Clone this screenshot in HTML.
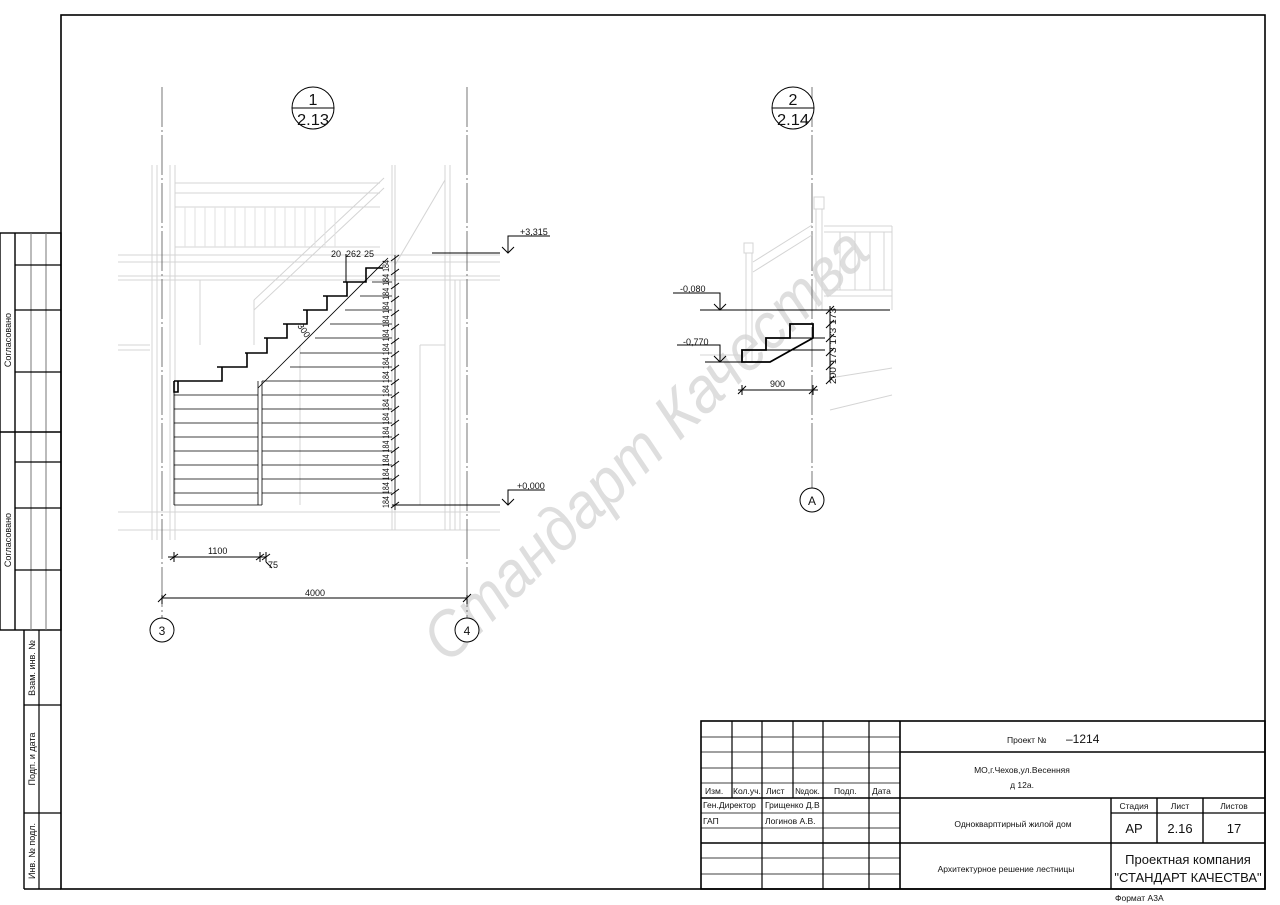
<!DOCTYPE html>
<html><head><meta charset="utf-8"><style>
html,body{margin:0;padding:0;background:#fff;width:1280px;height:905px;overflow:hidden}
svg{display:block}
text{font-family:"Liberation Sans","DejaVu Sans",sans-serif;fill:#111}
</style></head><body>
<svg width="1280" height="905" viewBox="0 0 1280 905" xmlns="http://www.w3.org/2000/svg">
<!-- frame -->
<rect x="61" y="15" width="1204" height="874" fill="none" stroke="#000" stroke-width="1.6"/>
<!-- left stamp -->
<g stroke="#000" fill="none">
<rect x="0" y="233" width="61" height="397" stroke-width="1.4"/>
<line x1="15" y1="233" x2="15" y2="630" stroke-width="1.4"/>
<line x1="31" y1="233" x2="31" y2="630" stroke="#777"/>
<line x1="46" y1="233" x2="46" y2="630" stroke="#777"/>
<line x1="0" y1="432" x2="61" y2="432" stroke-width="1.4"/>
<line x1="15" y1="265" x2="61" y2="265" stroke-width="1.2"/>
<line x1="15" y1="310" x2="61" y2="310" stroke-width="1.2"/>
<line x1="15" y1="372" x2="61" y2="372" stroke-width="1.2"/>
<line x1="15" y1="462" x2="61" y2="462" stroke-width="1.2"/>
<line x1="15" y1="508" x2="61" y2="508" stroke-width="1.2"/>
<line x1="15" y1="570" x2="61" y2="570" stroke-width="1.2"/>
<line x1="24" y1="630" x2="24" y2="889" stroke-width="1.4"/>
<line x1="39" y1="630" x2="39" y2="889" stroke-width="1.2"/>
<line x1="24" y1="705" x2="61" y2="705" stroke-width="1.2"/>
<line x1="24" y1="813" x2="61" y2="813" stroke-width="1.2"/>
<line x1="24" y1="889" x2="61" y2="889" stroke-width="1.4"/>
</g>
<g font-size="9">
<text transform="translate(11,340) rotate(-90)" text-anchor="middle">Согласовано</text>
<text transform="translate(11,540) rotate(-90)" text-anchor="middle">Согласовано</text>
<text transform="translate(35,668) rotate(-90)" text-anchor="middle">Взам. инв. №</text>
<text transform="translate(35,759) rotate(-90)" text-anchor="middle">Подп. и дата</text>
<text transform="translate(35,851) rotate(-90)" text-anchor="middle">Инв. № подл.</text>
</g>

<!-- watermark -->
<text transform="translate(448,665) rotate(-44)" font-size="64" style="fill:#dedede;font-style:italic" textLength="590" lengthAdjust="spacingAndGlyphs">Стандарт Качества</text>

<!-- light background drawing, view 1 -->
<g stroke="#d4d4d4" fill="none" stroke-width="1">
<line x1="152" y1="165" x2="152" y2="540"/><line x1="157" y1="165" x2="157" y2="540"/>
<line x1="170" y1="165" x2="170" y2="540"/><line x1="175" y1="165" x2="175" y2="540"/>
<line x1="118" y1="255" x2="500" y2="255"/><line x1="118" y1="262" x2="500" y2="262"/>
<line x1="118" y1="276" x2="500" y2="276"/><line x1="118" y1="280" x2="500" y2="280"/>
<line x1="175" y1="183" x2="380" y2="183"/><line x1="175" y1="193" x2="380" y2="193"/>
<line x1="175" y1="207" x2="380" y2="207"/><line x1="175" y1="247" x2="380" y2="247"/>
<line x1="254" y1="300" x2="384" y2="178"/><line x1="254" y1="310" x2="384" y2="188"/>
<line x1="254" y1="300" x2="254" y2="345"/>
<line x1="392" y1="165" x2="392" y2="530"/><line x1="395" y1="165" x2="395" y2="530"/>
<line x1="445" y1="165" x2="445" y2="530"/><line x1="450" y1="165" x2="450" y2="530"/>
<line x1="455" y1="280" x2="455" y2="530"/><line x1="460" y1="280" x2="460" y2="530"/>
<line x1="420" y1="345" x2="445" y2="345"/><line x1="420" y1="345" x2="420" y2="505"/>
<line x1="118" y1="345" x2="150" y2="345"/><line x1="118" y1="350" x2="150" y2="350"/>
<line x1="118" y1="512" x2="500" y2="512"/><line x1="118" y1="530" x2="500" y2="530"/>
<line x1="395" y1="265" x2="445" y2="180"/>
<line x1="200" y1="280" x2="200" y2="345"/><line x1="300" y1="345" x2="300" y2="505"/>
</g>
<g stroke="#e2e2e2">
<line x1="185" y1="207" x2="185" y2="247"/><line x1="195" y1="207" x2="195" y2="247"/><line x1="205" y1="207" x2="205" y2="247"/><line x1="215" y1="207" x2="215" y2="247"/><line x1="225" y1="207" x2="225" y2="247"/><line x1="235" y1="207" x2="235" y2="247"/><line x1="245" y1="207" x2="245" y2="247"/><line x1="255" y1="207" x2="255" y2="247"/><line x1="265" y1="207" x2="265" y2="247"/><line x1="275" y1="207" x2="275" y2="247"/><line x1="285" y1="207" x2="285" y2="247"/><line x1="295" y1="207" x2="295" y2="247"/><line x1="305" y1="207" x2="305" y2="247"/><line x1="315" y1="207" x2="315" y2="247"/><line x1="325" y1="207" x2="325" y2="247"/><line x1="335" y1="207" x2="335" y2="247"/>
</g>
<!-- axes -->
<g stroke="#555" stroke-width="0.8" stroke-dasharray="40 3 2 3">
<line x1="162" y1="87" x2="162" y2="618"/><line x1="467" y1="87" x2="467" y2="618"/>
<line x1="812" y1="87" x2="812" y2="488"/>
</g>
<g fill="#fff" stroke="#000" stroke-width="1">
<circle cx="162" cy="630" r="12"/><circle cx="467" cy="630" r="12"/><circle cx="812" cy="500" r="12"/>
<circle cx="313" cy="108" r="21"/><line x1="292" y1="108" x2="334" y2="108"/>
<circle cx="793" cy="108" r="21"/><line x1="772" y1="108" x2="814" y2="108"/>
</g>
<g font-size="12" text-anchor="middle">
<text x="162" y="635">3</text><text x="467" y="635">4</text><text x="812" y="505">A</text>
</g>
<g font-size="16" text-anchor="middle">
<text x="313" y="105">1</text><text x="313" y="125" textLength="32" lengthAdjust="spacingAndGlyphs">2.13</text>
<text x="793" y="105">2</text><text x="793" y="125" textLength="32" lengthAdjust="spacingAndGlyphs">2.14</text>
</g>

<!-- stair view1 -->
<g stroke="#000" fill="none">
<g stroke-width="0.8">
<line x1="174" y1="395" x2="258" y2="395"/><line x1="174" y1="409" x2="258" y2="409"/><line x1="174" y1="423" x2="258" y2="423"/><line x1="174" y1="437" x2="258" y2="437"/><line x1="174" y1="451" x2="258" y2="451"/><line x1="174" y1="465" x2="258" y2="465"/><line x1="174" y1="479" x2="258" y2="479"/><line x1="174" y1="493" x2="258" y2="493"/>
<line x1="262" y1="395" x2="392" y2="395"/><line x1="262" y1="409" x2="392" y2="409"/><line x1="262" y1="423" x2="392" y2="423"/><line x1="262" y1="437" x2="392" y2="437"/><line x1="262" y1="451" x2="392" y2="451"/><line x1="262" y1="465" x2="392" y2="465"/><line x1="262" y1="479" x2="392" y2="479"/><line x1="262" y1="493" x2="392" y2="493"/>
<line x1="262" y1="381" x2="392" y2="381"/><line x1="290" y1="367" x2="392" y2="367"/><line x1="300" y1="353" x2="392" y2="353"/><line x1="315" y1="338" x2="392" y2="338"/><line x1="330" y1="324" x2="392" y2="324"/><line x1="345" y1="310" x2="392" y2="310"/><line x1="360" y1="296" x2="392" y2="296"/><line x1="372" y1="282" x2="392" y2="282"/>
<line x1="174" y1="381" x2="174" y2="505"/><line x1="258" y1="381" x2="258" y2="505"/><line x1="262" y1="381" x2="262" y2="505"/>
<line x1="174" y1="505" x2="262" y2="505"/>
<line x1="258" y1="388" x2="388" y2="258"/>
</g>
<g stroke-width="1.6">
<path d="M174 381 H222 V367 H247 M217 367 H247 V353 H267 M245 353 H267 V338 H287 M264 338 H287 V324 H307 M283 324 H307 V310 H327 M303 310 H327 V296 H347 M323 296 H347 V282 H366 M343 282 H366 V268 H383"/>
<path d="M174 381 V392 H178 V381"/>
</g>
<line x1="346" y1="254" x2="346" y2="282"/>
<line x1="395" y1="255" x2="395" y2="510" stroke-width="0.8"/>
<line x1="392" y1="505" x2="500" y2="505"/>
<line x1="432" y1="253" x2="500" y2="253"/>
</g>
<g stroke="#000" stroke-width="1">
<line x1="391" y1="261" x2="399" y2="255"/><line x1="391" y1="275" x2="399" y2="269"/><line x1="391" y1="289" x2="399" y2="283"/><line x1="391" y1="302" x2="399" y2="296"/><line x1="391" y1="316" x2="399" y2="310"/><line x1="391" y1="330" x2="399" y2="324"/><line x1="391" y1="344" x2="399" y2="338"/><line x1="391" y1="357" x2="399" y2="351"/><line x1="391" y1="371" x2="399" y2="365"/><line x1="391" y1="385" x2="399" y2="379"/><line x1="391" y1="398" x2="399" y2="392"/><line x1="391" y1="412" x2="399" y2="406"/><line x1="391" y1="426" x2="399" y2="420"/><line x1="391" y1="440" x2="399" y2="434"/><line x1="391" y1="453" x2="399" y2="447"/><line x1="391" y1="467" x2="399" y2="461"/><line x1="391" y1="481" x2="399" y2="475"/><line x1="391" y1="495" x2="399" y2="489"/><line x1="391" y1="508" x2="399" y2="502"/>
</g>
<g font-size="9">
<text transform="translate(389,508) rotate(-90)" textLength="248" lengthAdjust="spacingAndGlyphs">184 184 184 184 184 184 184 184 184 184 184 184 184 184 184 184 184 184</text>
<text x="331" y="257">20</text><text x="346" y="257">262</text><text x="364" y="257">25</text>
<text transform="translate(297,326) rotate(55)">300</text>
</g>
<!-- level marks & dims -->
<g stroke="#000" fill="none" stroke-width="1">
<path d="M502 247 L508 253 L514 247 M508 253 V236 H550"/>
<path d="M502 499 L508 505 L514 499 M508 505 V490 H545"/>
<path d="M174 552 V562 M260 552 V562 M266 552 V562 M168 557 H266 M170 560 L178 554 M256 560 L264 554 M262 560 L270 554 M266 562 L272 568"/>
<path d="M162 595 V604 M467 595 V604 M162 598 H467 M158 602 L166 594 M463 602 L471 594"/>
</g>
<g font-size="9">
<text x="520" y="235">+3,315</text><text x="517" y="489">+0,000</text>
<text x="208" y="554">1100</text><text x="268" y="568">75</text>
<text x="305" y="596">4000</text>
</g>

<!-- view 2 background -->
<g stroke="#d4d4d4" fill="none">
<rect x="744" y="243" width="9" height="10"/><line x1="746" y1="253" x2="746" y2="362"/><line x1="752" y1="253" x2="752" y2="362"/>
<line x1="753" y1="262" x2="812" y2="225"/><line x1="753" y1="272" x2="812" y2="235"/>
<rect x="814" y="197" width="10" height="12"/><line x1="816" y1="209" x2="816" y2="310"/><line x1="822" y1="209" x2="822" y2="310"/>
<line x1="824" y1="226" x2="892" y2="226"/><line x1="824" y1="232" x2="892" y2="232"/><line x1="824" y1="290" x2="892" y2="290"/><line x1="824" y1="296" x2="892" y2="296"/>
<line x1="840" y1="232" x2="840" y2="290"/><line x1="855" y1="232" x2="855" y2="290"/><line x1="870" y1="232" x2="870" y2="290"/><line x1="884" y1="232" x2="884" y2="290"/><line x1="892" y1="226" x2="892" y2="310"/>
<line x1="830" y1="378" x2="892" y2="368"/><line x1="830" y1="410" x2="892" y2="395"/>
<line x1="700" y1="355" x2="740" y2="355"/>
</g>
<g stroke="#000" fill="none">
<line x1="700" y1="310" x2="890" y2="310"/>
<line x1="705" y1="362" x2="770" y2="362"/>
<path d="M742 362 V350 H766 V338 H790 V324 H813 V338 L770 362 Z" stroke-width="1.8"/>
<line x1="790" y1="338" x2="825" y2="338"/><line x1="766" y1="350" x2="825" y2="350"/>
<path d="M673 293 H720 V310 M714 304 L720 310 L726 304"/>
<path d="M677 345 H720 V362 M714 356 L720 362 L726 356"/>
<line x1="830" y1="306" x2="830" y2="382"/>
<path d="M826 314 L834 306 M826 328 L834 320 M826 342 L834 334 M826 356 L834 348 M826 370 L834 362 M826 384 L834 376"/>
<path d="M742 385 V395 M813 385 V395 M738 390 H818 M738 394 L746 386 M809 394 L817 386"/>
</g>
<g font-size="9">
<text x="680" y="292">-0,080</text><text x="683" y="345">-0,770</text>
<text x="770" y="387">900</text>
<text transform="translate(836,384) rotate(-90)" textLength="76" lengthAdjust="spacingAndGlyphs">200 173 173 173</text>
</g>

<!-- title block -->
<g stroke="#000" fill="none">
<rect x="701" y="721" width="564" height="168" stroke-width="1.6"/>
<line x1="900" y1="721" x2="900" y2="889" stroke-width="1.6"/>
<line x1="732" y1="721" x2="732" y2="798" stroke-width="1.2"/>
<line x1="762" y1="721" x2="762" y2="889" stroke-width="1.2"/>
<line x1="793" y1="721" x2="793" y2="798" stroke-width="1.2"/>
<line x1="823" y1="721" x2="823" y2="889" stroke-width="1.2"/>
<line x1="869" y1="721" x2="869" y2="889" stroke-width="1.2"/>
<g stroke-width="0.8">
<line x1="701" y1="737" x2="900" y2="737"/><line x1="701" y1="752" x2="900" y2="752"/><line x1="701" y1="768" x2="900" y2="768"/><line x1="701" y1="783" x2="900" y2="783"/>
<line x1="701" y1="813" x2="900" y2="813"/><line x1="701" y1="828" x2="900" y2="828"/><line x1="701" y1="858" x2="900" y2="858"/><line x1="701" y1="874" x2="900" y2="874"/>
</g>
<line x1="701" y1="798" x2="900" y2="798" stroke-width="1.4"/>
<line x1="701" y1="843" x2="900" y2="843" stroke-width="1.4"/>
<line x1="900" y1="752" x2="1265" y2="752" stroke-width="1.4"/>
<line x1="900" y1="798" x2="1265" y2="798" stroke-width="1.4"/>
<line x1="900" y1="843" x2="1265" y2="843" stroke-width="1.4"/>
<line x1="1111" y1="798" x2="1111" y2="889" stroke-width="1.4"/>
<line x1="1157" y1="798" x2="1157" y2="843" stroke-width="1.4"/>
<line x1="1203" y1="798" x2="1203" y2="843" stroke-width="1.4"/>
<line x1="1111" y1="813" x2="1265" y2="813" stroke-width="1.2"/>
</g>
<g font-size="8.5">
<text x="705" y="794">Изм.</text><text x="733" y="794">Кол.уч.</text><text x="766" y="794">Лист</text><text x="795" y="794">№док.</text><text x="834" y="794">Подп.</text><text x="872" y="794">Дата</text>
<text x="703" y="808">Ген.Директор</text><text x="765" y="808">Грищенко Д.В</text>
<text x="703" y="824">ГАП</text><text x="765" y="824">Логинов А.В.</text>
<text x="1007" y="743">Проект №</text>
<text x="1022" y="773" text-anchor="middle">МО,г.Чехов,ул.Весенняя</text>
<text x="1022" y="788" text-anchor="middle">д 12а.</text>
<text x="1013" y="827" text-anchor="middle">Однокварптирный жилой дом</text>
<text x="1006" y="872" text-anchor="middle">Архитектурное решение лестницы</text>
<text x="1134" y="809" text-anchor="middle">Стадия</text><text x="1180" y="809" text-anchor="middle">Лист</text><text x="1234" y="809" text-anchor="middle">Листов</text>
<text x="1115" y="901">Формат А3А</text>
</g>
<text x="1066" y="743" font-size="12">–1214</text>
<g font-size="13" text-anchor="middle">
<text x="1134" y="833">АР</text><text x="1180" y="833">2.16</text><text x="1234" y="833">17</text>
</g>
<g font-size="13" text-anchor="middle">
<text x="1188" y="864">Проектная компания</text>
<text x="1188" y="882">"СТАНДАРТ КАЧЕСТВА"</text>
</g>
</svg>
</body></html>
